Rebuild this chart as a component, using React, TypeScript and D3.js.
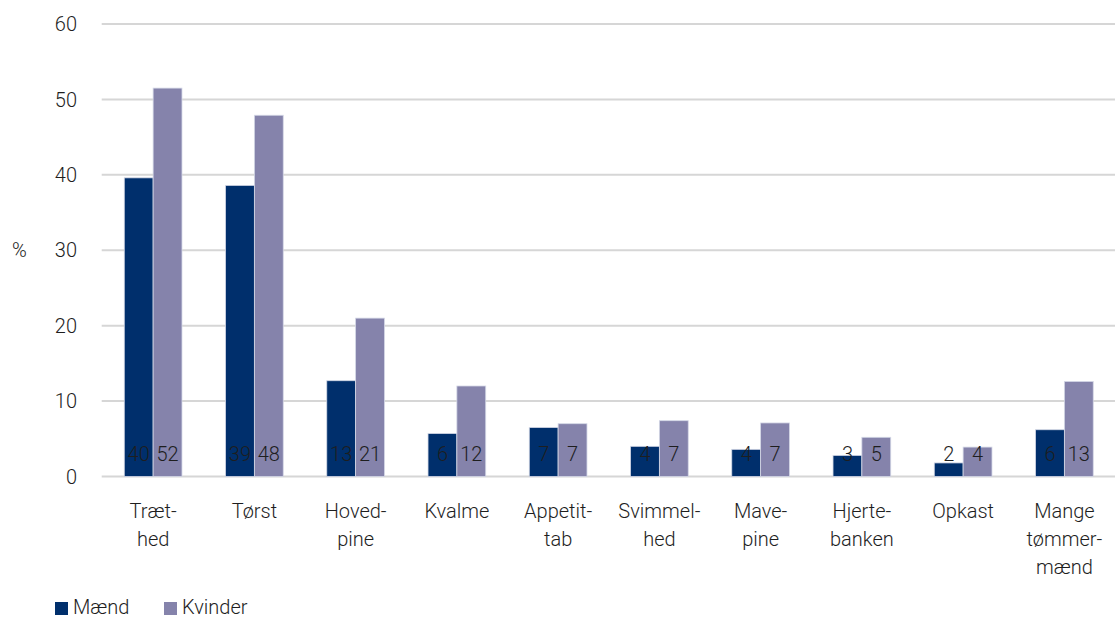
import React from "react";
import * as d3 from "d3";

const categories: string[][] = [
  ["Træt-", "hed"],
  ["Tørst"],
  ["Hoved-", "pine"],
  ["Kvalme"],
  ["Appetit-", "tab"],
  ["Svimmel-", "hed"],
  ["Mave-", "pine"],
  ["Hjerte-", "banken"],
  ["Opkast"],
  ["Mange", "tømmer-", "mænd"],
];
const maendValues = [39.6, 38.6, 12.7, 5.7, 6.5, 4.0, 3.6, 2.8, 1.8, 6.2];
const kvinderValues = [51.5, 47.9, 21.0, 12.0, 7.0, 7.4, 7.1, 5.2, 3.9, 12.6];
const maendLabels = ["40", "39", "13", "6", "7", "4", "4", "3", "2", "6"];
const kvinderLabels = ["52", "48", "21", "12", "7", "7", "7", "5", "4", "13"];
const yTicks = [0, 10, 20, 30, 40, 50, 60];
const seriesNames = ["Mænd", "Kvinder"];

const W = 1115;
const H = 618;
const COLORS = ["#002f6c", "#8583ab"];
const FONT = "Roboto, 'Open Sans', sans-serif";
const TEXT = "#1e1e1e";

export default function App() {
  const keys = categories.map((c) => c.join(""));
  const x = d3
    .scaleBand<string>()
    .domain(keys)
    .range([102.5, 1115])
    .paddingInner(0.43)
    .paddingOuter(0.215);
  const xs = d3
    .scaleBand<string>()
    .domain(seriesNames)
    .range([0, x.bandwidth()]);
  const y = d3.scaleLinear().domain([0, 60]).range([476.5, 24]);

  const series = [
    { name: seriesNames[0], values: maendValues, labels: maendLabels },
    { name: seriesNames[1], values: kvinderValues, labels: kvinderLabels },
  ];

  return (
    <svg
      width={W}
      height={H}
      style={{ position: "absolute", left: 0, top: 0, background: "#fff" }}
      fontFamily={FONT}
    >
      {yTicks.map((t) => (
        <g key={t}>
          <line
            x1={101.7}
            x2={W}
            y1={y(t)}
            y2={y(t)}
            stroke="#d6d6d6"
            strokeWidth={2}
          />
          <text
            x={77}
            y={y(t)}
            dy="0.36em"
            textAnchor="end"
            fontSize={20}
            fontWeight={300}
            fill={TEXT}
          >
            {t}
          </text>
        </g>
      ))}
      <text x={12} y={y(30)} dy="0.36em" fontSize={20} fontWeight={300} fill={TEXT}>
        %
      </text>

      {series.map((s, si) =>
        s.values.map((v, i) => {
          const bx = (x(keys[i]) as number) + (xs(s.name) as number);
          const bw = xs.bandwidth();
          return (
            <g key={s.name + i}>
              <rect
                x={bx}
                y={y(v)}
                width={bw}
                height={y(0) - y(v)}
                fill={COLORS[si]}
                stroke="#d4d8e6"
                strokeWidth={0.8}
              />
              <text
                x={bx + bw / 2}
                y={460.5}
                textAnchor="middle"
                fontSize={20}
                fontWeight={300}
                fill={TEXT}
              >
                {s.labels[i]}
              </text>
            </g>
          );
        })
      )}

      {categories.map((lines, i) => {
        const cx = (x(keys[i]) as number) + x.bandwidth() / 2;
        return (
          <text
            key={keys[i]}
            textAnchor="middle"
            fontSize={20}
            fontWeight={300}
            fill={TEXT}
          >
            {lines.map((ln, j) => (
              <tspan key={j} x={cx} y={518 + j * 28}>
                {ln}
              </tspan>
            ))}
          </text>
        );
      })}

      {seriesNames.map((n, i) => {
        const lx = [55, 164][i];
        return (
          <g key={n}>
            <rect x={lx} y={602} width={13} height={13} fill={COLORS[i]} />
            <text
              x={lx + 18}
              y={614}
              fontSize={20}
              fontWeight={300}
              fill={TEXT}
            >
              {n}
            </text>
          </g>
        );
      })}
    </svg>
  );
}
